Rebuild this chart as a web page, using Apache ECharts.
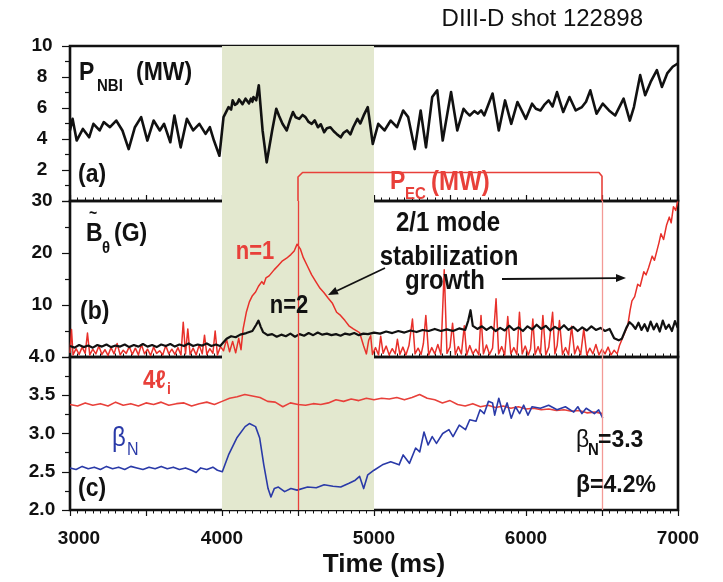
<!DOCTYPE html>
<html>
<head>
<meta charset="utf-8">
<script src="https://cdn.jsdelivr.net/npm/echarts@6/dist/echarts.min.js"></script>
<style>html,body{margin:0;padding:0;background:#fff;}#c{width:723px;height:582px;}</style>
</head>
<body>
<div id="c"></div>
<script>
// ---------- DATA (time in ms) ----------
var xTicks = [3000, 4000, 5000, 6000, 7000];
var shadeRange = [4000, 5000];
var ecOnOff = [4500, 6500];

// (a) neutral beam power P_NBI (MW)
var pnbi = [
 [3000,4.55],[3017,5.30],[3044,3.90],[3085,4.65],[3126,4.11],[3154,4.98],[3195,4.55],[3222,5.09],
 [3263,4.76],[3304,5.19],[3345,4.55],[3386,3.35],[3427,4.76],[3468,5.41],[3509,3.90],[3550,5.19],
 [3591,4.55],[3619,4.98],[3660,3.79],[3687,5.52],[3728,3.46],[3769,5.30],[3810,4.55],[3851,4.98],
 [3892,4.33],[3920,4.76],[3947,3.90],[3983,2.92],[4010,5.41],[4043,6.06],[4060,5.90],[4070,6.49],
 [4085,6.20],[4100,6.30],[4112,6.55],[4125,6.60],[4135,6.25],[4145,6.35],[4155,6.60],[4166,6.49],
 [4178,6.30],[4190,6.60],[4200,6.40],[4207,6.71],[4225,6.50],[4242,7.47],[4267,4.55],[4294,2.49],
 [4330,4.55],[4357,5.95],[4375,5.50],[4398,4.98],[4426,4.55],[4450,5.30],[4467,5.74],[4485,5.40],
 [4508,5.30],[4530,5.55],[4549,5.41],[4570,5.10],[4590,4.98],[4610,5.20],[4631,4.76],[4650,4.95],
 [4672,4.44],[4690,4.70],[4713,4.76],[4735,4.50],[4754,4.33],[4781,4.11],[4800,4.40],[4822,4.55],
 [4845,4.30],[4863,4.76],[4891,5.30],[4910,5.00],[4932,5.52],[4959,6.06],[4992,3.68],[5028,4.98],
 [5069,4.55],[5110,5.19],[5151,4.76],[5192,5.84],[5225,5.41],[5268,3.35],[5307,5.84],[5342,3.46],
 [5383,6.71],[5416,7.14],[5452,3.90],[5507,7.03],[5548,4.55],[5589,5.95],[5610,5.70],[5630,5.52],
 [5660,5.80],[5684,5.63],[5705,5.85],[5725,5.52],[5780,6.93],[5821,4.55],[5862,6.49],[5903,4.98],
 [5944,6.39],[5999,5.30],[6040,6.28],[6065,5.95],[6095,5.84],[6120,6.20],[6149,6.49],[6175,6.10],
 [6204,7.03],[6245,5.74],[6286,6.71],[6327,5.84],[6368,6.06],[6395,6.40],[6423,7.14],[6464,5.63],
 [6505,6.28],[6546,5.84],[6587,5.52],[6642,6.60],[6683,5.19],[6710,6.06],[6751,8.12],[6784,6.82],
 [6820,7.68],[6861,8.44],[6894,7.36],[6929,8.23],[6965,8.66],[6998,8.87]
];
// (a) EC power P_EC (MW)
var pec = [[4500,0],[4500,1.55],[4530,1.84],[6480,1.84],[6500,1.6],[6500,0]];

// (b) n=1 amplitude (G)
var n1 = [
 [3000,0.8],[3010,5.3],[3020,0.4],[3040,1.6],[3060,0.5],[3080,1.9],[3100,0.7],[3115,4.6],[3130,0.4],
 [3150,1.5],[3170,0.6],[3190,2.1],[3210,0.5],[3230,1.4],[3250,0.3],[3270,1.8],[3290,0.6],[3310,2.6],
 [3330,0.4],[3350,1.3],[3370,0.7],[3390,2.0],[3410,0.5],[3430,1.7],[3450,0.4],[3470,2.4],[3490,0.6],
 [3510,1.5],[3530,0.3],[3550,1.9],[3570,0.7],[3590,1.2],[3610,0.4],[3630,2.2],[3650,0.6],[3670,1.5],
 [3690,0.5],[3710,1.8],[3730,0.4],[3745,6.7],[3760,0.6],[3775,5.4],[3790,0.5],[3810,1.7],[3830,0.4],
 [3850,2.3],[3870,0.6],[3885,4.2],[3900,0.5],[3920,1.6],[3940,0.7],[3955,5.0],[3970,0.4],[3990,2.0],
 [4010,1.2],[4030,3.4],[4050,1.0],[4070,3.0],[4090,0.8],[4110,3.6],[4125,1.4],[4139,5.4],[4160,8.6],
 [4180,10.6],[4200,11.8],[4221,12.5],[4240,13.6],[4262,14.5],[4275,14.0],[4289,15.2],[4310,15.6],
 [4344,16.8],[4370,17.6],[4398,18.5],[4425,19.0],[4453,19.7],[4475,20.4],[4494,21.7],[4515,20.8],
 [4535,19.1],[4560,17.6],[4590,15.8],[4615,14.6],[4645,13.2],[4670,12.4],[4699,11.3],[4725,10.4],
 [4754,8.6],[4780,8.0],[4809,7.0],[4835,6.0],[4864,5.4],[4905,4.7],[4932,2.1],[4950,0.6],[4965,3.2],
 [4978,4.1],[4990,0.5],[5010,1.8],[5030,0.4],[5044,4.0],[5060,0.7],[5080,2.1],[5100,0.4],[5120,1.6],
 [5140,0.6],[5154,3.4],[5170,0.5],[5190,1.9],[5210,0.4],[5230,2.2],[5253,7.3],[5270,0.6],[5290,1.7],
 [5310,0.5],[5325,2.6],[5341,8.0],[5360,0.4],[5380,1.8],[5400,0.6],[5420,2.4],[5440,0.5],[5462,16.8],
 [5480,0.7],[5500,1.9],[5517,6.5],[5535,0.5],[5555,2.0],[5575,0.6],[5594,6.0],[5610,0.4],[5630,2.2],
 [5650,0.6],[5670,1.5],[5690,0.4],[5704,8.0],[5720,0.6],[5740,2.3],[5760,0.5],[5780,1.7],[5803,11.2],
 [5820,0.6],[5840,2.0],[5860,0.4],[5880,7.8],[5900,0.6],[5920,1.8],[5940,0.5],[5957,8.6],[5975,0.6],
 [5995,2.1],[6015,0.4],[6030,1.6],[6045,7.3],[6060,0.5],[6080,2.0],[6095,0.6],[6111,8.0],[6130,0.4],
 [6150,1.9],[6175,8.6],[6190,0.6],[6205,2.2],[6220,7.0],[6240,0.5],[6260,1.8],[6280,0.4],[6300,5.9],
 [6320,0.6],[6340,2.1],[6360,0.5],[6380,5.4],[6400,0.4],[6420,1.7],[6440,0.6],[6460,2.4],[6480,0.4],
 [6500,1.5],[6520,0.6],[6540,1.9],[6560,0.4],[6580,1.3],[6600,0.6],[6615,2.2],[6640,4.0],[6669,6.0],
 [6685,9.0],[6697,10.8],[6715,11.6],[6735,14.0],[6751,13.6],[6775,16.4],[6790,15.8],[6806,17.1],
 [6830,19.4],[6845,18.6],[6861,20.4],[6875,22.0],[6888,23.7],[6905,22.6],[6925,25.4],[6943,26.9],
 [6955,25.8],[6970,28.9],[6985,28.2],[6998,29.9]
];
// (b) n=2 amplitude (G)
var n2 = [
 [3000,2.1],[3030,1.8],[3060,2.3],[3090,1.9],[3120,2.2],[3150,1.8],[3180,2.3],[3210,2.0],[3240,2.4],
 [3270,1.9],[3300,2.2],[3330,2.0],[3360,2.4],[3390,1.9],[3420,2.3],[3450,2.0],[3480,2.5],[3510,2.0],
 [3540,2.3],[3570,1.9],[3600,2.4],[3630,2.1],[3660,2.5],[3690,2.0],[3720,2.4],[3750,2.1],[3780,2.6],
 [3810,2.1],[3840,2.4],[3870,2.2],[3900,2.6],[3930,2.1],[3960,2.4],[3988,2.1],[4030,3.5],[4060,4.0],
 [4090,3.8],[4120,4.3],[4160,4.6],[4200,5.0],[4225,6.2],[4240,7.0],[4255,5.8],[4270,4.8],[4300,4.2],
 [4330,4.4],[4360,3.9],[4390,4.3],[4420,4.0],[4450,4.5],[4480,3.9],[4510,4.4],[4540,4.1],[4570,4.6],
 [4600,4.2],[4630,4.7],[4660,4.3],[4690,4.5],[4720,4.2],[4750,4.4],[4780,4.1],[4810,4.5],[4840,4.3],
 [4870,4.6],[4900,4.2],[4930,4.5],[4960,4.4],[5000,4.7],[5040,4.5],[5080,4.9],[5120,4.6],[5160,5.0],
 [5200,4.7],[5240,5.1],[5280,4.8],[5320,5.2],[5360,5.0],[5400,5.4],[5440,5.0],[5480,5.3],[5520,5.0],
 [5560,5.5],[5600,5.2],[5620,7.0],[5635,9.0],[5650,6.0],[5680,5.4],[5710,5.9],[5740,5.2],[5770,5.8],
 [5800,5.0],[5830,5.6],[5860,5.1],[5890,6.0],[5920,5.2],[5950,5.7],[5980,5.0],[6010,5.9],[6040,5.3],
 [6070,6.2],[6100,5.4],[6130,6.0],[6160,5.1],[6190,5.8],[6220,5.3],[6250,6.1],[6280,5.2],[6310,5.8],
 [6340,5.0],[6370,5.7],[6400,5.1],[6430,5.9],[6460,5.2],[6490,5.6],[6520,5.0],[6550,5.4],[6580,3.6],
 [6610,3.2],[6630,3.5],[6660,5.6],[6680,6.7],[6700,6.2],[6720,5.4],[6740,6.6],[6760,5.2],[6780,6.3],
 [6800,5.0],[6820,6.8],[6840,5.3],[6860,6.4],[6880,4.9],[6900,7.0],[6920,5.4],[6940,6.2],[6960,5.0],
 [6980,6.9],[6998,5.6]
];

// (c) 4*l_i
var li4 = [
 [3000,3.38],[3050,3.36],[3100,3.40],[3150,3.37],[3200,3.39],[3250,3.36],[3300,3.41],[3350,3.37],
 [3400,3.39],[3450,3.36],[3500,3.40],[3550,3.38],[3600,3.41],[3650,3.37],[3700,3.39],[3750,3.40],
 [3800,3.36],[3850,3.39],[3900,3.41],[3950,3.38],[4000,3.42],[4050,3.46],[4100,3.48],[4150,3.51],
 [4200,3.49],[4250,3.47],[4300,3.42],[4350,3.41],[4400,3.35],[4450,3.40],[4500,3.38],[4550,3.37],
 [4600,3.39],[4650,3.38],[4700,3.40],[4750,3.44],[4800,3.42],[4850,3.45],[4900,3.43],[4950,3.46],
 [5000,3.44],[5050,3.46],[5100,3.45],[5150,3.47],[5200,3.44],[5250,3.47],[5300,3.51],[5350,3.46],
 [5400,3.44],[5450,3.40],[5500,3.43],[5550,3.38],[5600,3.36],[5650,3.39],[5700,3.35],[5750,3.37],
 [5800,3.34],[5850,3.36],[5900,3.33],[5950,3.35],[6000,3.32],[6050,3.33],[6100,3.31],[6150,3.32],
 [6200,3.30],[6250,3.31],[6300,3.29],[6350,3.30],[6400,3.27],[6450,3.28],[6505,3.26]
];
// (c) beta_N
var betaN = [
 [3000,2.55],[3040,2.53],[3080,2.57],[3120,2.54],[3160,2.56],[3200,2.53],[3240,2.57],[3280,2.54],
 [3320,2.56],[3360,2.53],[3400,2.57],[3440,2.55],[3480,2.53],[3520,2.56],[3560,2.54],[3600,2.57],
 [3640,2.54],[3680,2.56],[3720,2.53],[3760,2.55],[3800,2.52],[3830,2.49],[3860,2.55],[3900,2.53],
 [3940,2.56],[3970,2.52],[4002,2.50],[4043,2.72],[4097,2.94],[4152,3.09],[4180,3.13],[4221,3.09],
 [4248,2.94],[4275,2.59],[4303,2.28],[4322,2.17],[4344,2.28],[4371,2.30],[4412,2.24],[4453,2.28],
 [4494,2.26],[4563,2.30],[4620,2.29],[4672,2.33],[4730,2.31],[4781,2.30],[4836,2.35],[4877,2.39],
 [4905,2.44],[4932,2.28],[4959,2.46],[5000,2.52],[5055,2.59],[5110,2.63],[5165,2.59],[5192,2.72],
 [5233,2.61],[5274,2.81],[5301,2.76],[5329,3.02],[5356,2.85],[5383,2.96],[5411,2.87],[5452,3.00],
 [5493,3.05],[5520,2.96],[5561,3.11],[5602,3.05],[5630,3.18],[5671,3.16],[5698,3.31],[5725,3.26],
 [5753,3.42],[5780,3.40],[5794,3.24],[5821,3.46],[5849,3.26],[5876,3.40],[5903,3.20],[5931,3.35],
 [5958,3.26],[5985,3.37],[6013,3.24],[6040,3.35],[6095,3.33],[6149,3.37],[6204,3.31],[6259,3.35],
 [6314,3.28],[6341,3.35],[6368,3.26],[6396,3.33],[6450,3.26],[6478,3.31],[6505,3.20]
];

// ---------- CHART ----------
var FONT = '"Liberation Sans", Arial, "DejaVu Sans", sans-serif';
var chart = echarts.init(document.getElementById('c'), null, {renderer: 'canvas'});

var L = 70, R = 723 - 678;
var grids = [
  {left: L, right: R, top: 46, height: 155},
  {left: L, right: R, top: 201, height: 156},
  {left: L, right: R, top: 357, height: 153}
];
grids.forEach(function (g) { g.show = true; g.borderColor = '#111'; g.borderWidth = 2.6; g.backgroundColor = 'transparent'; });

function xAx(i, last) {
  return {
    type: 'value', gridIndex: i, min: 3000, max: 7000, interval: 500,
    axisLine: {show: false},
    splitLine: {show: false},
    axisTick: {show: true, inside: !last, length: 6, lineStyle: {color: '#111', width: 1.2}},
    minorTick: {show: true, splitNumber: 10, length: 3.5, lineStyle: {color: '#111', width: 1}},
    axisLabel: {show: last, margin: 19, color: '#111', fontSize: 19, fontWeight: 'bold', fontFamily: FONT,
      rich: {first: {fontSize: 19, fontWeight: 'bold', fontFamily: FONT, color: '#111', padding: [0, 0, 0, 18]}},
      formatter: function (v) {
        if (xTicks.indexOf(v) < 0) return '';
        return v === xTicks[0] ? '{first|' + v + '}' : String(v);
      }}
  };
}
function yAx(i, min, max, interval, fmt) {
  return {
    type: 'value', gridIndex: i, min: min, max: max, interval: interval,
    axisLine: {show: false}, splitLine: {show: false},
    axisTick: {show: true, inside: false, length: 8, lineStyle: {color: '#111', width: 1.2}},
    minorTick: {show: true, splitNumber: 2, length: 5, lineStyle: {color: '#111', width: 1.2}},
    axisLabel: {margin: 28, align: 'center', color: '#111', fontSize: 19, fontWeight: 'bold', fontFamily: FONT, formatter: fmt}
  };
}

var shade = {silent: true, itemStyle: {color: '#e3e8cf'}, data: [[{xAxis: shadeRange[0]}, {xAxis: shadeRange[1]}]]};
function vlines() {
  return {silent: true, symbol: 'none', label: {show: false},
    data: [{xAxis: ecOnOff[0], lineStyle: {color: '#e8403a', width: 1.3, type: 'solid'}},
           {xAxis: ecOnOff[1], lineStyle: {color: '#f39a96', width: 1.3, type: 'solid'}}]};
}
function line(data, xi, color, width, extra) {
  var s = {type: 'line', xAxisIndex: xi, yAxisIndex: xi, data: data, symbol: 'none', smooth: false,
    lineStyle: {color: color, width: width, join: 'round'}, animation: false, clip: true};
  if (extra) for (var k in extra) s[k] = extra[k];
  return s;
}

// annotation texts (scaled vertically about their anchor point)
function T(x, y, text, size, opt) {
  opt = opt || {};
  return {type: 'text', x: x, y: y, scaleY: opt.sy || 1.15, originX: 0, originY: 0, z: 100,
    style: {text: text, fill: opt.color || '#111', font: (opt.w || 'bold') + ' ' + size + 'px ' + FONT,
      align: opt.align || 'left', verticalAlign: 'middle'}};
}
function arrow(x1, y1, x2, y2) {
  var a = Math.atan2(y2 - y1, x2 - x1), h = 10, w = 4;
  var bx = x2 - h * Math.cos(a), by = y2 - h * Math.sin(a);
  return [
    {type: 'line', z: 100, shape: {x1: x1, y1: y1, x2: bx, y2: by}, style: {stroke: '#111', lineWidth: 1.8}},
    {type: 'polygon', z: 100, shape: {points: [[x2, y2], [bx - w * Math.sin(a), by + w * Math.cos(a)], [bx + w * Math.sin(a), by - w * Math.cos(a)]]}, style: {fill: '#111'}}
  ];
}

var RED = '#e8403a', BLUE = '#2a3aa8';
var graphics = [
  {type: 'text', x: 643, y: 19, z: 100, style: {text: 'DIII-D shot 122898', fill: '#111', font: '24px ' + FONT, align: 'right', verticalAlign: 'middle'}},
  T(79, 73, 'P', 23), T(97, 86, 'NBI', 15), T(136, 73, '(MW)', 23),
  T(78, 175, '(a)', 23),
  T(390, 182, 'P', 23, {color: RED}), T(405, 194, 'EC', 15, {color: RED}), T(431, 182, '(MW)', 24, {color: RED}),
  T(89, 214, '~', 14),
  T(86, 234, 'B', 23), T(102, 248, '\u03b8', 15), T(114, 234, '(G)', 23),
  T(80, 312, '(b)', 23),
  T(255, 252, 'n=1', 22, {color: RED, align: 'center'}),
  T(289, 306, 'n=2', 22, {align: 'center'}),
  T(448, 223, '2/1 mode', 24, {align: 'center'}),
  T(449, 257, 'stabilization', 24, {align: 'center'}),
  T(445, 281, 'growth', 24, {align: 'center'}),
  T(143, 381, '4\u2113', 22, {color: RED}), T(167, 390, 'i', 14, {color: RED}),
  T(112, 438, '\u03b2', 24, {color: BLUE, w: 'normal'}), T(127, 450, 'N', 16, {color: BLUE, w: 'normal'}),
  T(78, 489, '(c)', 23),
  T(576, 440, '\u03b2', 23, {w: 'normal', sy: 1.05}), T(588, 451, 'N', 15, {sy: 1.05}), T(598, 440, '=3.3', 23, {sy: 1.05}),
  T(576, 485, '\u03b2=4.2%', 23, {sy: 1.05}),
  {type: 'text', x: 384, y: 565, z: 100,
    style: {text: 'Time (ms)', fill: '#111', font: 'bold 26px ' + FONT, align: 'center', verticalAlign: 'middle'}}
].concat(arrow(385, 268, 328, 295)).concat(arrow(502, 279, 626, 278));

chart.setOption({
  animation: false,
  backgroundColor: '#fff',
  grid: grids,
  xAxis: [xAx(0, false), xAx(1, false), xAx(2, true)],
  yAxis: [
    yAx(0, 0, 10, 2, function (v) { return v === 0 ? '' : String(v); }),
    yAx(1, 0, 30, 10, function (v) { return v === 0 ? '' : String(v); }),
    yAx(2, 2, 4, 0.5, function (v) { return v.toFixed(1); })
  ],
  series: [
    line(pnbi, 0, '#111', 2.6, {markArea: shade, z: 3}),
    line(pec, 0, RED, 1.6, {z: 4}),
    line(n1, 1, '#e8302a', 1.5, {markArea: shade, markLine: vlines(), z: 3}),
    line(n2, 1, '#111', 2.2, {z: 4}),
    line(li4, 2, RED, 1.6, {markArea: shade, markLine: vlines(), z: 3}),
    line(betaN, 2, BLUE, 1.6, {z: 4})
  ],
  graphic: graphics
});
</script>
</body>
</html>
